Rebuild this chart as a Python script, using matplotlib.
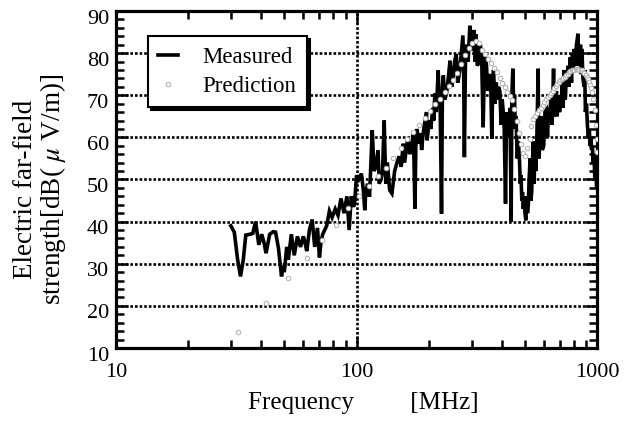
import matplotlib
matplotlib.use("Agg")
import matplotlib.pyplot as plt
from matplotlib.ticker import FixedLocator, NullFormatter, MultipleLocator
from matplotlib.transforms import ScaledTranslation

plt.rcParams['font.family'] = ['Liberation Serif', 'DejaVu Serif']
plt.rcParams['mathtext.fontset'] = 'stix'

# Measured (MHz, dB(uV/m))
meas_freq = [30.0, 31.0, 32.0, 32.9, 33.8, 34.6, 36.0, 37.0, 38.0, 39.2, 40.3, 41.2, 42.0, 43.5, 45.0, 46.0,
             47.3, 48.7, 49.4, 50.0, 51.2, 52.0, 53.5, 55.0, 56.7, 58.4, 60.0, 61.0, 62.0, 63.6, 65.3, 66.9,
             68.7, 70.0, 71.0, 72.2, 75.0, 77.0, 79.0, 81.4, 83.6, 86.0, 88.6, 91.0, 93.0, 94.9, 97.0, 98.0,
             99.8, 101.9, 104.6, 106.5, 108, 109, 111, 113, 116, 118, 120, 122.6, 124, 126, 128, 130, 132,
             134, 137, 140, 143.7, 147, 150, 153, 156, 158, 163, 166, 169, 172, 174.5, 176, 178, 181, 184,
             186, 188, 191, 195, 196, 200, 203, 207, 209, 211, 214, 218, 220, 222, 225, 227, 229, 232, 236,
             240, 244, 248, 252, 255, 259, 263, 268, 272, 276, 278, 280, 283, 286, 290, 295, 298, 303, 307,
             310, 313, 317, 322, 326, 330, 335, 340, 346, 350, 355, 360, 364, 367, 370, 375, 380, 383, 388,
             393, 398, 402, 406, 410, 415, 419, 423, 428, 433, 438, 441, 445, 449, 452, 456, 459, 464, 469,
             474, 478, 481, 485, 488, 492, 496, 500, 504, 508, 512, 516, 520, 525, 529, 533, 537, 541, 545,
             550, 555, 560, 567, 570, 572, 578, 585, 590, 598, 605, 613, 620, 627, 632, 640, 648, 657, 662,
             667, 675, 680, 687, 695, 706, 715, 720, 727, 735, 742, 749, 755, 762, 771, 780, 787, 794, 800,
             810, 818, 830, 836, 844, 850, 856, 862, 870, 880, 885, 891, 900, 908, 916, 925, 932, 940, 945,
             952, 960, 967, 975, 985, 992, 1000]
meas_db = [39.0, 37.5, 31, 27, 31, 36.8, 37, 37.2, 40, 34.5, 37, 35, 32.5, 37, 37.6, 37.5,
           33.7, 27, 29.5, 28, 34, 31, 37, 32, 36.5, 34, 36.5, 35, 33, 38, 40.5, 34,
           38.5, 31.5, 35, 37, 39, 42.5, 41, 43, 41.5, 45.5, 42, 46, 38, 46, 43.5, 44.5,
           51, 50, 51.4, 47.5, 42.7, 47, 49, 45.9, 61.7, 52, 53, 56.9, 49, 50, 52, 64, 49,
           54, 47.5, 46.7, 52, 54, 55.5, 53, 58.5, 54, 60, 56, 58, 61, 43.1, 58, 62, 58.5, 61,
           57, 60, 63, 66, 59.3, 64, 62, 67, 64, 70.4, 66, 75.9, 68, 69, 41.9, 72, 74.7, 69, 70.4,
           74, 78.2, 72, 74.7, 78, 79.8, 73, 75.9, 80, 84.2, 76, 55.3, 79, 82, 78, 86.5, 81, 81, 85.5,
           78, 84.5, 77, 78, 82, 80, 62.4, 80, 77, 71, 75, 74, 59.7, 72, 76, 68, 73, 69, 72,
           71, 63, 69, 66, 62, 44.3, 66, 64, 60, 67, 40, 70, 76.3, 66, 70, 62, 65, 55, 59,
           55, 49, 51, 45, 47, 43, 46, 42, 40.3, 46, 42, 44, 50, 55, 45, 47, 54, 59, 49,
           56, 52, 60, 76.3, 58, 55, 62, 65, 57, 58, 66, 66.5, 60, 67, 64, 69, 63, 76.3, 65,
           66, 71, 65, 70, 66, 68, 73, 67, 76, 69, 74, 72, 77, 72, 79, 73, 80, 76, 81,
           77, 82, 84.6, 77, 78, 82, 75, 81, 74, 72, 76, 66, 68, 63, 60, 62, 58, 60, 57,
           58, 54, 56, 50, 52, 48, 51]

# Prediction (MHz, dB(uV/m))
pred_freq = [32, 42, 52, 62, 72, 82, 92, 102, 112, 122, 132, 142, 152, 162, 172, 182, 192, 202, 212, 222,
             232, 242, 252, 262, 272, 282, 292, 302, 312, 322, 332, 342, 352, 362, 372, 382, 392, 402, 412,
             422, 432, 442, 452, 462, 472, 482, 492, 502, 512, 522, 532, 542, 552, 562, 572, 582, 592, 602,
             612, 622, 632, 642, 652, 662, 672, 682, 692, 702, 712, 722, 732, 742, 752, 762, 772, 782, 792,
             802, 812, 822, 832, 842, 852, 862, 872, 882, 892, 902, 912, 922, 932, 942, 952, 962, 972, 982,
             992, 1000]
pred_db = [13.8, 20.8, 26.6, 31.3, 35.6, 39.2, 43.2, 46, 48.4, 50.8, 52.8, 55, 57.4, 59.6, 61.3, 62.9,
           64.5, 66.3, 67.9, 69, 70.7, 72.2, 73.6, 75.3, 77.5, 79.5, 81.3, 82.5, 82.9, 82.3, 80.8, 79.8,
           78.7, 77.6, 76.5, 75.4, 74.1, 72.9, 71.9, 70.8, 69.8, 68.8, 66.8, 63.8, 61, 58.5, 56.2, 55.5,
           57.4, 59.5, 62.6, 64.3, 65.1, 65.7, 66.4, 67, 67.7, 68.4, 69, 69.5, 70, 70.5, 71.1, 71.7, 72.2,
           72.6, 73.1, 73.5, 73.8, 74.1, 74.4, 74.8, 75.1, 75.4, 75.7, 75.9, 76, 76.1, 76.2, 76.3, 76.2,
           76.1, 76, 75.9, 75.5, 75.2, 74.8, 74.3, 73.8, 73.2, 72.5, 71.7, 70.8, 69.2, 66.5, 63, 59.5, 56.5]

x_ticks = [10, 100, 1000]
x_ticklabels = ['10', '100', '1000']
y_ticks = [10, 20, 30, 40, 50, 60, 70, 80, 90]

fig = plt.figure(figsize=(6.28, 4.21), dpi=100)
ax = fig.add_axes([0.1847, 0.1734, 0.7667, 0.8005])

ax.plot(meas_freq, meas_db, color='black', lw=2.6, solid_joinstyle='miter', label='Measured', zorder=3)
ax.plot(pred_freq, pred_db, ls='none', marker='o', ms=3.2, mfc='white', mec='#b4b4b4', mew=0.8,
        label='Prediction', zorder=4)

ax.set_xscale('log')
ax.set_xlim(10, 1000)
ax.set_ylim(10, 90)
ax.xaxis.set_major_locator(FixedLocator(x_ticks))
ax.set_xticklabels(x_ticklabels)
ax.xaxis.set_minor_locator(FixedLocator([20, 30, 40, 50, 60, 70, 80, 90, 200, 300, 400, 500, 600, 700, 800, 900]))
ax.xaxis.set_minor_formatter(NullFormatter())
ax.set_yticks(y_ticks)
ax.yaxis.set_minor_locator(MultipleLocator(2))

ax.tick_params(which='both', direction='in', top=True, right=True, width=1.8, labelsize=16)
ax.tick_params(which='major', length=8.5)
ax.tick_params(which='minor', length=6)
ax.tick_params(axis='x', pad=11)
ax.tick_params(axis='y', pad=5)
for lab in ax.get_yticklabels():
    lab.set_transform(lab.get_transform() + ScaledTranslation(0, -4 / 72, fig.dpi_scale_trans))

for s in ax.spines.values():
    s.set_linewidth(2.3)

for yv in y_ticks[1:-1]:
    ax.axhline(yv, color='black', lw=1.9, ls=(0, (1, 0.75)), dash_capstyle='butt', zorder=1)
ax.axvline(100, color='black', lw=1.9, ls=(0, (1, 0.75)), dash_capstyle='butt', zorder=1)

ax.set_xlabel('Frequency         [MHz]', fontsize=18)
ax.xaxis.set_label_coords(0.514, -0.13)
ax.set_ylabel('Electric far-field\nstrength[dB( $\\mu$ V/m)]', fontsize=19.5, linespacing=1.0)
ax.yaxis.set_label_coords(-0.1, 0.47)

leg = ax.legend(loc='upper left', bbox_to_anchor=(0.066, 0.925), borderaxespad=0,
                fontsize=16.5, frameon=True, fancybox=False, shadow={'color': 'black', 'alpha': 1},
                handlelength=0.85, handletextpad=1.1, borderpad=0.45, labelspacing=0.35,
                framealpha=1)
leg.get_frame().set_edgecolor('black')
leg.get_frame().set_linewidth(1.5)

fig.savefig('out.png', dpi=100)
